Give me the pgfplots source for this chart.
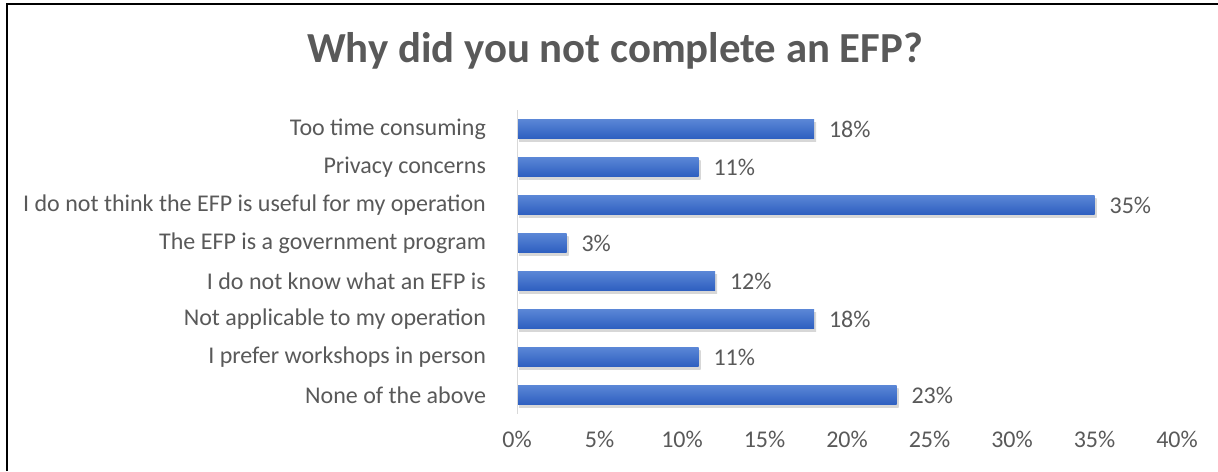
\documentclass[border=0pt]{standalone}
\usepackage{pgfplots}
\pgfplotsset{compat=1.18}
\usepackage{fontspec}
\setmainfont{Carlito}
\definecolor{txt}{HTML}{595959}
\definecolor{bartop}{HTML}{5A86D6}
\definecolor{barbot}{HTML}{2E5FC0}
\begin{document}
\begin{tikzpicture}[x=1pt,y=1pt]
\useasboundingbox (0,0) rectangle (609,235.5);
\draw[line width=1pt,black] (3.5,0) -- (3.5,233.5) -- (609,233.5);
\node[anchor=base, font=\fontsize{21.4}{26}\selectfont\bfseries, text=txt] at (307.5,204) {Why did you not complete an EFP?};
\begin{axis}[
  at={(258.5pt,28.5pt)}, anchor=south west,
  scale only axis, width=330pt, height=152pt,
  xbar, bar width=9.5pt, bar shift=0pt,
  xmin=0, xmax=40, ymin=-0.5, ymax=7.5,
  axis line style={draw=none},
  major tick length=0pt,
  xtick={0,5,...,40},
  xticklabel={\pgfmathprintnumber{\tick}\%},
  ytick={0,1,2,3,4,5,6,7},
  yticklabels={None of the above, I prefer workshops in person, Not applicable to my operation, I do not know what an EFP is, The EFP is a government program, I do not think the EFP is useful for my operation, Privacy concerns, Too time consuming},
  /pgf/number format/assume math mode=true,
  tick label style={font=\fontsize{12}{14}\selectfont, text=txt},
  xticklabel style={yshift=-5pt},
  yticklabel style={xshift=-12pt},
  point meta=x,
  nodes near coords={\pgfmathprintnumber[fixed,precision=0]{\pgfplotspointmeta}\%},
  nodes near coords style={font=\fontsize{12}{14}\selectfont, text=txt, anchor=west, xshift=4pt},
  barsty/.style={draw=none, top color=bartop, bottom color=barbot,
    preaction={top color=black!45, bottom color=black!45, opacity=0.35, transform canvas={xshift=1pt, yshift=-1.5pt}}},
]
\addplot[barsty] coordinates {(23,0)};
\addplot[barsty] coordinates {(11,1)};
\addplot[barsty] coordinates {(18,2)};
\addplot[barsty] coordinates {(12,3)};
\addplot[barsty] coordinates {(3,4)};
\addplot[barsty] coordinates {(35,5)};
\addplot[barsty] coordinates {(11,6)};
\addplot[barsty] coordinates {(18,7)};
\draw[gray!30, line width=1pt] (axis cs:0,-0.5) -- (axis cs:0,7.5);
\end{axis}
\end{tikzpicture}
\end{document}
